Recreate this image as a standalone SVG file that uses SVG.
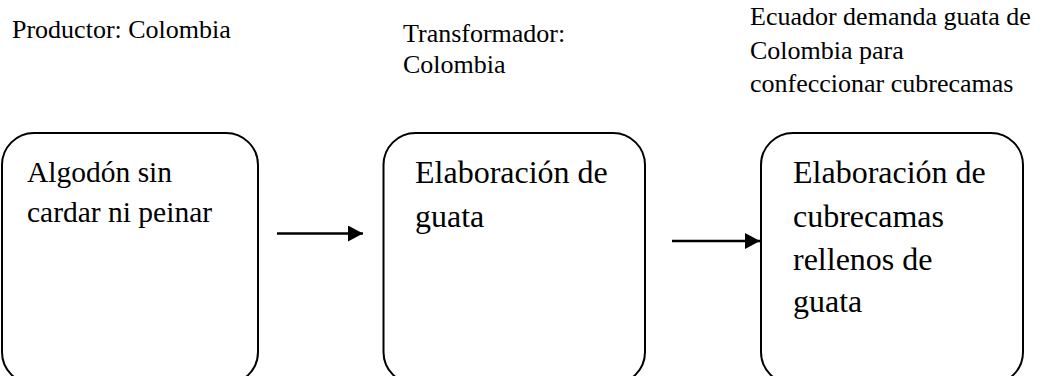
<svg xmlns="http://www.w3.org/2000/svg" width="1044" height="376" viewBox="0 0 1044 376">
<style>
.top{font-size:26px}
.b1{font-size:29.5px}
.b2{font-size:32px}
.box{fill:#fff;stroke:#000;stroke-width:2}
.conn{stroke:#000;stroke-width:2.5;fill:none}
</style>
<defs>
<marker id="ah" markerUnits="userSpaceOnUse" markerWidth="16" markerHeight="16" refX="15" refY="8" orient="auto">
<path d="M0,0 L15,8 L0,16 Z" fill="#000"/>
</marker>
</defs>
<rect width="1044" height="376" fill="#fff"/>
<g font-family="Liberation Serif, Times New Roman, serif" fill="#000">
<g id="label-productor">
<text class="top" x="12" y="38">Productor: Colombia</text>
</g>
<g id="label-transformador">
<text class="top" x="403" y="42">Transformador:</text>
<text class="top" x="403" y="73">Colombia</text>
</g>
<g id="label-ecuador">
<text class="top" x="750" y="25">Ecuador demanda guata de</text>
<text class="top" x="750" y="59">Colombia para</text>
<text class="top" x="750" y="92">confeccionar cubrecamas</text>
</g>
<g id="node-algodon">
<rect class="box" x="2" y="133" width="256" height="251" rx="32" ry="32"/>
<text class="b1" x="27" y="182">Algodón sin</text>
<text class="b1" x="27" y="222">cardar ni peinar</text>
</g>
<g id="node-guata">
<rect class="box" x="383.5" y="133" width="261.5" height="251" rx="32" ry="32"/>
<text class="b2" x="415" y="183">Elaboración de</text>
<text class="b2" x="415" y="227">guata</text>
</g>
<g id="node-cubrecamas">
<rect class="box" x="761" y="133" width="262" height="251" rx="32" ry="32"/>
<text class="b2" x="793" y="183">Elaboración de</text>
<text class="b2" x="793" y="227">cubrecamas</text>
<text class="b2" x="793" y="270">rellenos de</text>
<text class="b2" x="793" y="312">guata</text>
</g>
</g>
<g id="connectors">
<line class="conn" x1="277" y1="233.5" x2="363" y2="233.5" marker-end="url(#ah)"/>
<line class="conn" x1="672" y1="241" x2="760" y2="241" marker-end="url(#ah)"/>
</g>
</svg>
